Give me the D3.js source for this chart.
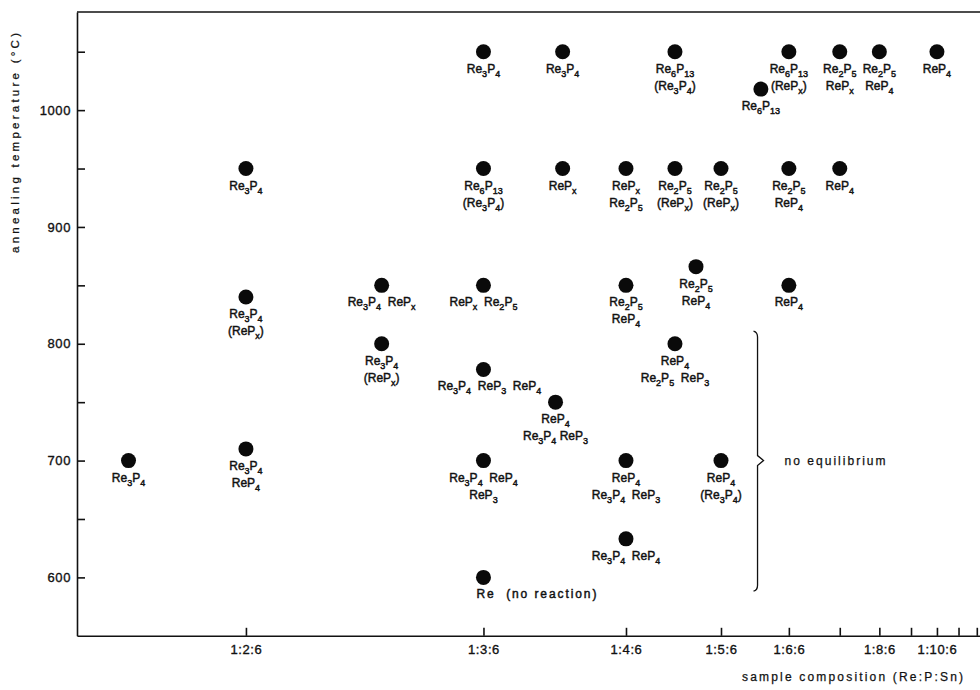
<!DOCTYPE html>
<html>
<head>
<meta charset="utf-8">
<script src="https://cdn.jsdelivr.net/npm/d3@7"></script>
<style>
  html, body { margin: 0; padding: 0; background: #fff; }
  svg { display: block; font-family: "Liberation Sans", Arial, Helvetica, sans-serif; }
  .phase { font-size: 12px; fill: #111; white-space: pre; stroke: #111; stroke-width: 0.45px; }
  .axis text { font-size: 13px; fill: #111; stroke: #111; stroke-width: 0.35px; font-family: "Liberation Sans", Arial, sans-serif; letter-spacing: 0.6px; }
  .axis path, .axis line { stroke: #111; stroke-width: 1.6px; }
  .title { fill: #111; stroke: #111; stroke-width: 0.25px; }
</style>
</head>
<body>
<svg id="chart" width="980" height="690"></svg>
<script>
// ---- data ----
// P content of the sample, as Re:P:Sn = 1:P:6
const compositions = [1.67, 2, 2, 2, 2.5, 2.5, 3, 3, 3, 3, 3, 3, 3.5, 3.5, 3.45, 4, 4, 4, 4,
  4.47, 4.47, 4.47, 4.7, 5, 5, 5.55, 6, 6, 6, 7, 7, 8, 10];
// annealing temperature (°C)
const temperatures = [700, 710, 840, 950, 850, 800, 1050, 950, 850, 778, 700, 600, 1050, 950, 750,
  950, 850, 700, 633, 1050, 950, 800, 866, 950, 700, 1018, 1050, 950, 850, 1050, 950, 1050, 1050];
// phases found (one entry per line of label)
const phases = [
  ["Re3P4"],
  ["Re3P4", "ReP4"],
  ["Re3P4", "(RePx)"],
  ["Re3P4"],
  ["Re3P4  RePx"],
  ["Re3P4", "(RePx)"],
  ["Re3P4"],
  ["Re6P13", "(Re3P4)"],
  ["RePx  Re2P5"],
  ["Re3P4  ReP3  ReP4"],
  ["Re3P4  ReP4", "ReP3"],
  ["Re  (no reaction)"],
  ["Re3P4"],
  ["RePx"],
  ["ReP4", "Re3P4 ReP3"],
  ["RePx", "Re2P5"],
  ["Re2P5", "ReP4"],
  ["ReP4", "Re3P4  ReP3"],
  ["Re3P4  ReP4"],
  ["Re6P13", "(Re3P4)"],
  ["Re2P5", "(RePx)"],
  ["ReP4", "Re2P5  ReP3"],
  ["Re2P5", "ReP4"],
  ["Re2P5", "(RePx)"],
  ["ReP4", "(Re3P4)"],
  ["Re6P13"],
  ["Re6P13", "(RePx)"],
  ["Re2P5", "ReP4"],
  ["ReP4"],
  ["Re2P5", "RePx"],
  ["ReP4"],
  ["Re2P5", "ReP4"],
  ["ReP4"]
];
// x-axis ticks (P value) and their labels ("" = unlabelled tick)
const xTickP = [2, 3, 4, 5, 6, 7, 8, 9, 10, 11, 12];
const xTickLabels = ["1:2:6", "1:3:6", "1:4:6", "1:5:6", "1:6:6", "", "1:8:6", "", "1:10:6", "", ""];
// y-axis ticks
const yTicks = [600, 650, 700, 750, 800, 850, 900, 950, 1000, 1050];
const yTickLabels = ["600", "", "700", "", "800", "", "900", "", "1000", ""];
// "no equilibrium" bracket: P position and temperature span (top, tip, bottom)
const bracketP = 5.5;
const bracketT = [810, 700, 589];
const bracketText = "no equilibrium";
const xTitle = "sample composition (Re:P:Sn)";
const yTitle = "annealing temperature (\u00B0C)";

// ---- drawing ----
const svg = d3.select("#chart");
const ratio = p => p / (1 + p);           // axis is linear in P/(Re+P)
const x = d3.scaleLinear().domain([0.6074, 0.9242]).range([77, 980]);
const y = d3.scaleLinear().domain([550, 1084]).range([635.8, 12]);
const X = p => x(ratio(p));

// top frame line
svg.append("line").attr("x1", 77).attr("x2", 980).attr("y1", y(1084)).attr("y2", y(1084))
  .attr("stroke", "#111").attr("stroke-width", 1.6);

// y axis
const yAxis = d3.axisLeft(y).tickValues(yTicks)
  .tickFormat((d, i) => yTickLabels[i]).tickSizeInner(-8).tickSizeOuter(0).tickPadding(6);
svg.append("g").attr("class", "axis").attr("transform", `translate(${x.range()[0]},0)`).call(yAxis);

// x axis
const xAxis = d3.axisBottom(x).tickValues(xTickP.map(ratio))
  .tickFormat((d, i) => xTickLabels[i]).tickSizeInner(-8).tickSizeOuter(0).tickPadding(9);
svg.append("g").attr("class", "axis").attr("transform", `translate(0,${y(550)})`).call(xAxis);

// axis titles
svg.append("text").attr("class", "title").attr("x", 742).attr("y", 681)
  .attr("textLength", 221).attr("lengthAdjust", "spacing")
  .style("font-size", "12px").text(xTitle);
svg.append("text").attr("class", "title").attr("transform", "translate(19,143) rotate(-90)")
  .attr("text-anchor", "middle").attr("textLength", 220).attr("lengthAdjust", "spacing")
  .style("font-size", "11.5px").text(yTitle);

// formula -> tspans with subscripts
function addFormula(textSel, str) {
  const parts = [];
  let i = 0;
  while (i < str.length) {
    const c = str[i];
    const prev = i > 0 ? str[i - 1] : "";
    const isSubStart = (/[0-9]/.test(c) && /[A-Za-z]/.test(prev)) || (c === "x" && prev === "P");
    if (isSubStart) {
      let j = i + 1;
      if (c !== "x") while (j < str.length && /[0-9]/.test(str[j])) j++;
      parts.push({ t: str.slice(i, j), sub: true });
      i = j;
    } else {
      let j = i + 1;
      while (j < str.length) {
        const cj = str[j], pj = str[j - 1];
        if ((/[0-9]/.test(cj) && /[A-Za-z]/.test(pj)) || (cj === "x" && pj === "P")) break;
        j++;
      }
      parts.push({ t: str.slice(i, j), sub: false });
      i = j;
    }
  }
  let shifted = false;
  parts.forEach(p => {
    const ts = textSel.append("tspan").text(p.t);
    if (p.sub && !shifted) { ts.attr("dy", 4).style("font-size", "9px"); shifted = true; }
    else if (p.sub) { ts.style("font-size", "9px"); }
    else if (shifted) { ts.attr("dy", -4); shifted = false; }
  });
}

// points
const pts = compositions.map((p, i) => ({ p, t: temperatures[i], lab: phases[i] }));
svg.append("g").selectAll("circle").data(pts).join("circle")
  .attr("cx", d => X(d.p)).attr("cy", d => y(d.t)).attr("r", 7.5).attr("fill", "#0a0a0a");

// labels
const lg = svg.append("g");
pts.forEach(d => {
  d.lab.forEach((line, k) => {
    const start = line.indexOf("(no reaction)") >= 0;
    const t = lg.append("text").attr("class", "phase")
      .attr("x", start ? X(d.p) - 7 : X(d.p) + (line.length > 14 ? 6 : 0))
      .attr("y", y(d.t) + 21 + k * 17)
      .attr("text-anchor", start ? "start" : "middle");
    if (start) t.attr("textLength", 120).attr("lengthAdjust", "spacing");
    addFormula(t, line);
  });
});

// "no equilibrium" bracket
const bx = X(bracketP);
const [yt, ym, yb] = bracketT.map(y);
svg.append("path")
  .attr("d", `M${bx - 4},${yt - 1} Q${bx},${yt} ${bx},${yt + 5} L${bx},${ym - 5} L${bx + 6},${ym} L${bx},${ym + 5} L${bx},${yb - 5} Q${bx},${yb} ${bx - 4},${yb + 1}`)
  .attr("fill", "none").attr("stroke", "#111").attr("stroke-width", 1.3);
svg.append("text").attr("class", "title").attr("x", bx + 27).attr("y", ym + 4)
  .attr("textLength", 101).attr("lengthAdjust", "spacing")
  .style("font-size", "12px").text(bracketText);
</script>
</body>
</html>
